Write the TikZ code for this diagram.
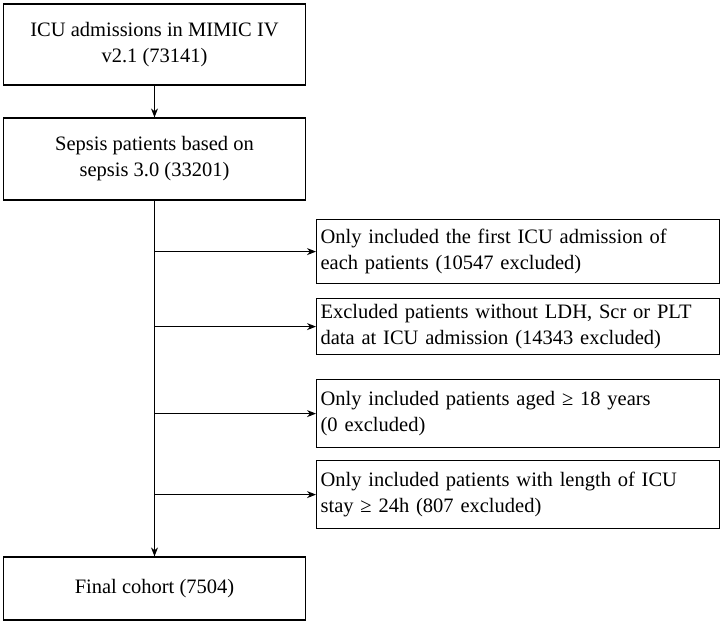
\documentclass[tikz,border=0pt]{standalone}
\usepackage{fontspec}
\setmainfont{Liberation Serif}
\usetikzlibrary{arrows.meta}
\begin{document}
\begin{tikzpicture}[x=1pt,y=-1pt,
  box/.style={draw,line width=1.2pt,inner sep=0pt,font=\fontsize{20.5}{26}\selectfont},
  lbox/.style={box,minimum width=302pt,align=center},
  rbox/.style={box,minimum width=403pt,align=left,text width=395pt,anchor=north west},
  arr/.style={line width=1pt,-{Stealth[length=9pt,width=7pt]}}]
\useasboundingbox (0,0) rectangle (724,624);
\node[lbox,minimum height=81pt] (a) at (154.5,44.5) {ICU admissions in MIMIC IV\\v2.1 (73141)};
\node[lbox,minimum height=82pt] (b) at (154.5,159) {Sepsis patients based on\\sepsis 3.0 (33201)};
\node[rbox,minimum height=64pt] (c) at (316,219) {Only included the first ICU admission of\\each patients (10547 excluded)};
\node[rbox,minimum height=56pt] (d) at (316,298) {Excluded patients without LDH, Scr or PLT\\data at ICU admission (14343 excluded)};
\node[rbox,minimum height=68pt] (e) at (316,379) {Only included patients aged ≥ 18 years\\(0 excluded)};
\node[rbox,minimum height=68pt] (f) at (316,460) {Only included patients with length of ICU\\stay ≥ 24h (807 excluded)};
\node[lbox,minimum height=63pt] (g) at (154.5,588.5) {Final cohort (7504)};
\draw[arr] (a.south) -- (b.north);
\draw[arr] (b.south) -- (g.north);
\foreach \n in {c,d,e,f} \draw[arr] (b.south |- \n.west) -- (\n.west);
\end{tikzpicture}
\end{document}
